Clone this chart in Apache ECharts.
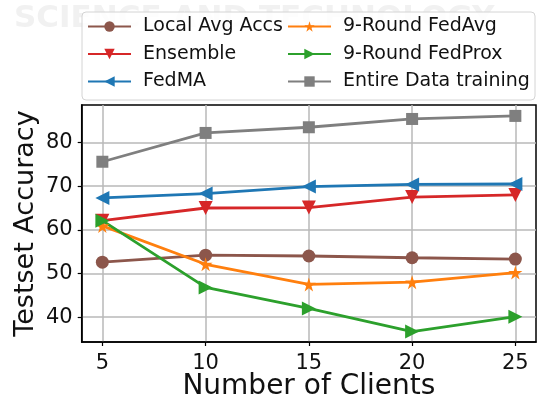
<!DOCTYPE html>
<html>
<head>
<meta charset="utf-8">
<script src="https://cdn.jsdelivr.net/npm/echarts@6/dist/echarts.min.js"></script>
<style>html,body{margin:0;padding:0;background:#fff}#c{width:538px;height:399px}</style>
</head>
<body>
<div id="c"></div>
<script>
const clients = [5, 10, 15, 20, 25];
const xTicks = [5, 10, 15, 20, 25];
const yTicks = [40, 50, 60, 70, 80];
const localAvg = [52.6, 54.2, 54.0, 53.6, 53.3];
const ensemble = [62.1, 65.0, 65.1, 67.5, 68.0];
const fedMA = [67.3, 68.3, 69.9, 70.4, 70.5];
const fedAvg9 = [60.9, 52.1, 47.5, 48.0, 50.2];
const fedProx9 = [62.1, 46.8, 42.0, 36.7, 40.1];
const entireData = [75.6, 82.2, 83.5, 85.4, 86.1];
const seriesNames = ['Local Avg Accs', 'Ensemble', 'FedMA', '9-Round FedAvg', '9-Round FedProx', 'Entire Data training'];

const FONT = 'DejaVu Sans';
const star = 'path://M50,0 L61,35 L98,35 L68,57 L79,91 L50,70 L21,91 L32,57 L2,35 L39,35 Z';

function pairs(vals) { return clients.map((c, i) => [c, vals[i]]); }
function mk(name, vals, color, symbol, size, rot) {
  return {
    name: name, type: 'line', data: pairs(vals),
    symbol: symbol, symbolSize: size, symbolRotate: rot || 0,
    lineStyle: { color: color, width: 2.8 },
    itemStyle: { color: color },
    emphasis: { disabled: true },
    animation: false
  };
}

const chart = echarts.init(document.getElementById('c'), null, { renderer: 'canvas' });
const legendCommon = {
  orient: 'vertical', top: 17, itemWidth: 43, itemHeight: 13, itemGap: 8.5, padding: 0,
  textStyle: { fontFamily: FONT, fontSize: 19, color: '#111', lineHeight: 19, padding: [0, 0, 0, 7] },
  selectedMode: false
};
chart.setOption({
  animation: false,
  backgroundColor: '#fff',
  graphic: [
    { type: 'text', left: 14, top: 3, z: -10, silent: true,
      style: { text: 'SCIENCE AND TECHNOLOGY', fill: '#f1f1f1', font: 'bold 31px "DejaVu Sans"' } },
    { type: 'rect', shape: { x: 82, y: 12, width: 453, height: 88, r: 4 }, z: 0, silent: true,
      style: { fill: 'rgba(255,255,255,0.85)', stroke: '#d4d4d4', lineWidth: 1 } }
  ],
  legend: [
    Object.assign({ left: 87, data: seriesNames.slice(0, 3) }, legendCommon),
    Object.assign({ left: 287, data: seriesNames.slice(3) }, legendCommon)
  ],
  grid: { left: 81.7, right: 2, top: 105, bottom: 57, containLabel: false, outerBoundsMode: 'none',
    show: true, borderColor: '#000', borderWidth: 1.5, backgroundColor: 'transparent' },
  xAxis: {
    type: 'value', min: 4, max: 26,
    name: 'Number of Clients', nameLocation: 'middle', nameGap: 31, nameMoveOverlap: false,
    nameTextStyle: { fontFamily: FONT, fontSize: 28, color: '#111' },
    axisLine: { show: true, lineStyle: { color: '#000', width: 1.5 } },
    axisTick: { show: true, inside: false, length: 4, customValues: xTicks, lineStyle: { color: '#000', width: 1.2 } },
    axisLabel: { customValues: xTicks, margin: 11, fontFamily: FONT, fontSize: 21, color: '#111' },
    splitLine: { show: true, lineStyle: { color: '#b8b8b8', width: 1.5 } }
  },
  yAxis: {
    type: 'value', min: 34.3, max: 88.6,
    name: 'Testset Accuracy', nameLocation: 'middle', nameGap: 42, nameRotate: 90, nameMoveOverlap: false,
    nameTextStyle: { fontFamily: FONT, fontSize: 27, color: '#111' },
    axisLine: { show: true, lineStyle: { color: '#000', width: 1.5 } },
    axisTick: { show: true, inside: false, length: 4, customValues: yTicks, lineStyle: { color: '#000', width: 1.2 } },
    axisLabel: { customValues: yTicks, margin: 9, fontFamily: FONT, fontSize: 21, color: '#111' },
    splitLine: { show: true, lineStyle: { color: '#b8b8b8', width: 1.5 } }
  },
  series: [
    mk(seriesNames[0], localAvg, '#8c564b', 'circle', 13),
    mk(seriesNames[1], ensemble, '#d62728', 'triangle', 14, 180),
    mk(seriesNames[2], fedMA, '#1f77b4', 'triangle', 14, 90),
    mk(seriesNames[3], fedAvg9, '#ff7f0e', star, 14),
    mk(seriesNames[4], fedProx9, '#2ca02c', 'triangle', 14, -90),
    mk(seriesNames[5], entireData, '#7f7f7f', 'rect', 12)
  ]
});
</script>
</body>
</html>
